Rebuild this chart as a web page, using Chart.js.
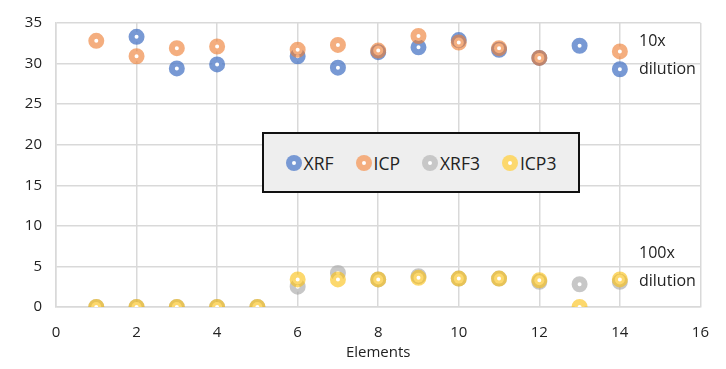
<!DOCTYPE html>
<html>
<head>
<meta charset="utf-8">
<script src="https://cdn.jsdelivr.net/npm/chart.js@4"></script>
<style>
  body { margin: 0; background: #fff; font-family: "Open Sans", sans-serif; }
  #wrap { position: relative; width: 726px; height: 369px; }
  .note { position: absolute; font-size: 16px; color: #222; line-height: 1; }
  #legend {
    position: absolute; left: 262px; top: 132px; width: 314px; height: 57px;
    background: #eeeeee; border: 2px solid #111;
    display: flex; align-items: center; justify-content: center;
    font-size: 17.5px; color: #222;
  }
  .item { display: flex; align-items: center; margin: 0 11px; }
  .dot { width: 4px; height: 4px; border-radius: 50%; background: #fff; border-width: 6px; border-style: solid; margin-right: 2px; }
</style>
</head>
<body>
<div id="wrap">
  <canvas id="c" width="726" height="369"></canvas>
  <div id="legend"></div>
  <div class="note" style="left:639px;top:32px">10x</div>
  <div class="note" style="left:639px;top:60px">dilution</div>
  <div class="note" style="left:639px;top:244px">100x</div>
  <div class="note" style="left:639px;top:272px">dilution</div>
</div>
<script>
// podaci
const elementi = [1, 2, 3, 4, 5, 6, 7, 8, 9, 10, 11, 12, 13, 14];
const xrf  = [null, 33.3, 29.4, 29.9, null, 30.9, 29.5, 31.4, 32.0, 32.9, 31.7, 30.7, 32.2, 29.3];
const icp  = [32.8, 30.9, 31.9, 32.1, null, 31.7, 32.3, 31.6, 33.4, 32.6, 31.9, 30.7, null, 31.5];
const xrf3 = [0, 0, 0, 0, 0, 2.5, 4.2, 3.4, 3.8, 3.5, 3.5, 3.1, 2.8, 3.1];
const icp3 = [0, 0, 0, 0, 0, 3.4, 3.4, 3.4, 3.6, 3.5, 3.5, 3.3, 0, 3.4];

const nazivi = ['XRF', 'ICP', 'XRF3', 'ICP3'];
const boje = [
  'rgba(68,114,196,0.72)',
  'rgba(237,125,49,0.62)',
  'rgba(165,165,165,0.62)',
  'rgba(250,192,20,0.62)'
];
// kasnije serije crtaju se preko ranijih
const redoslijed = [3, 2, 1, 0];

const tocke = arr => elementi.map((x, i) => ({ x, y: arr[i] })).filter(p => p.y !== null);

const serije = [xrf, icp, xrf3, icp3].map((arr, i) => ({
  label: nazivi[i],
  data: tocke(arr),
  order: redoslijed[i],
  backgroundColor: '#fff',
  borderColor: boje[i],
  borderWidth: 6,
  pointRadius: 5,
  pointHoverRadius: 5
}));

// legenda
const legend = document.getElementById('legend');
nazivi.forEach((n, i) => {
  const d = document.createElement('div');
  d.className = 'item';
  d.innerHTML = `<span class="dot" style="border-color:${boje[i]}"></span>${n}`;
  legend.appendChild(d);
});

const font = { family: '"Open Sans", sans-serif', size: 15 };

new Chart(document.getElementById('c'), {
  type: 'scatter',
  data: { datasets: serije },
  options: {
    responsive: false,
    animation: false,
    layout: { padding: { top: 10, right: 23, left: 0, bottom: 0 } },
    plugins: { legend: { display: false }, tooltip: { enabled: false } },
    scales: {
      x: {
        min: 0, max: 16,
        ticks: { stepSize: 2, color: '#222', font, padding: 17 },
        grid: { color: '#d9d9d9', lineWidth: 1.5, drawTicks: false },
        border: { color: '#d9d9d9', width: 1.5 },
        title: { display: true, text: 'Elements', color: '#222', font: { ...font, size: 15 }, padding: { top: 0, bottom: 7 } },
        afterFit: s => { s.height = 62; }
      },
      y: {
        min: 0, max: 35,
        ticks: { stepSize: 5, color: '#222', font, padding: 14 },
        grid: { color: '#d9d9d9', lineWidth: 1.5, drawTicks: false },
        border: { color: '#d9d9d9', width: 1.5 },
        afterFit: s => { s.width = 56; }
      }
    }
  }
});
</script>
</body>
</html>
